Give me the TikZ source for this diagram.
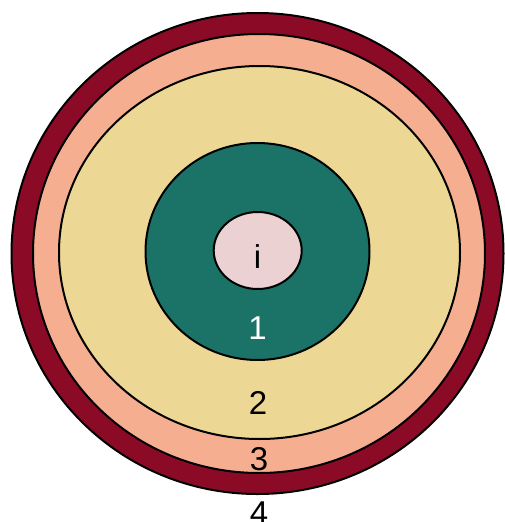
\documentclass[tikz,border=0pt]{standalone}
\usepackage{fontspec}
\setmainfont{Liberation Sans}
\usetikzlibrary{shapes.geometric}
\definecolor{c4}{HTML}{8B0A26}
\definecolor{c3}{HTML}{F5AF90}
\definecolor{c2}{HTML}{ECD894}
\definecolor{c1}{HTML}{1B7367}
\definecolor{ci}{HTML}{ECD1D3}
\tikzset{
  ring/.style={ellipse, draw=black, line width=2pt, inner sep=0pt, outer sep=0pt},
  lbl/.style={anchor=base, inner sep=0pt, font=\fontsize{33}{33}\selectfont}
}
\begin{document}
\begin{tikzpicture}[x=1pt,y=-1pt]
\useasboundingbox (0,0) rectangle (505,522);
\clip (0,0) rectangle (505,522);
\node[ring, fill=c4, minimum width=492pt, minimum height=481pt] (r4) at (257.5,253.5) {};
\node[ring, fill=c3, minimum width=452pt, minimum height=439pt] (r3) at (259,253.5) {};
\node[ring, fill=c2, minimum width=401pt, minimum height=373pt] (r2) at (259.5,252.5) {};
\node[ring, fill=c1, minimum width=224pt, minimum height=217pt] (r1) at (257.5,251.5) {};
\node[ring, fill=ci, minimum width=88pt, minimum height=77pt] (ri) at (257.7,250.5) {};
\node[lbl] (ti) at (257.5,268) {i};
\node[lbl, text=white] (t1) at (257.5,339) {1};
\node[lbl] (t2) at (258,414) {2};
\node[lbl] (t3) at (259,470) {3};
\node[lbl] (t4) at (259,524.5) {4};
\end{tikzpicture}
\end{document}
